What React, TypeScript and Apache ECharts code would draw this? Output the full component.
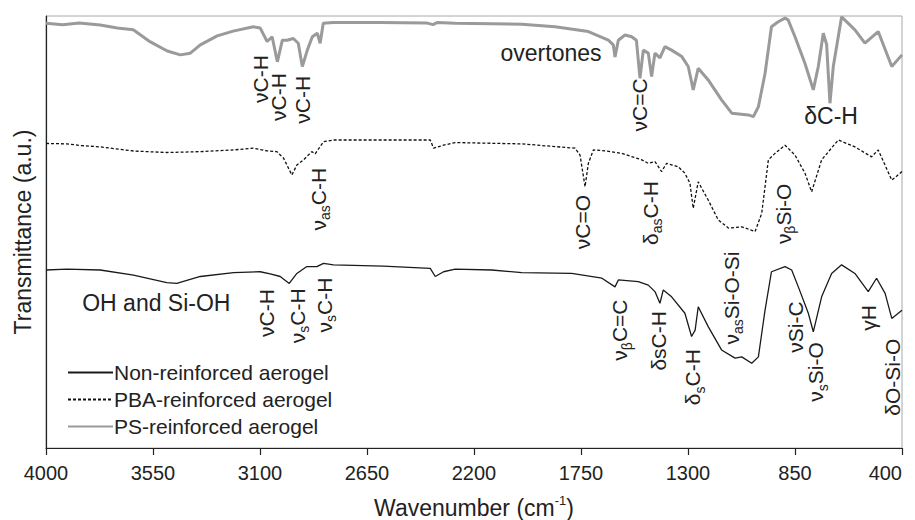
import React, { useEffect, useRef } from "react";
import * as echarts from "echarts";

const FONT = "'Liberation Sans', Arial, Helvetica, sans-serif";

// Wavenumber axis (cm-1): ticks every 450 from 400 to 4000
const xMin = 400;
const xMax = 4000;
const xStep = 450;

const seriesNames = ["Non-reinforced aerogel", "PBA-reinforced aerogel", "PS-reinforced aerogel"];

// Non-reinforced aerogel
const nonWn = [4000, 3912, 3772, 3632, 3492, 3450, 3351, 3211, 3099, 3057, 3015, 2977, 2945, 2903, 2861, 2833, 2791, 2582, 2384, 2363, 2328, 2279, 2125, 1999, 1789, 1662, 1607, 1593, 1509, 1467, 1439, 1418, 1404, 1369, 1313, 1285, 1270, 1257, 1215, 1159, 1102, 1074, 1032, 1004, 976, 949, 892, 864, 836, 794, 773, 738, 696, 654, 598, 542, 507, 471, 443, 400];
const nonT = [41.2, 41.4, 41.2, 40.0, 38.3, 38.1, 39.7, 40.6, 40.8, 40.3, 39.7, 38.1, 40.4, 42.0, 42.0, 42.75, 42.4, 42.1, 41.6, 39.7, 40.8, 41.4, 41.2, 40.6, 40.4, 39.3, 37.3, 38.9, 38.5, 37.7, 36.2, 33.5, 36.6, 35.0, 31.2, 25.8, 27.3, 32.7, 28.1, 22.7, 20.8, 21.1, 19.6, 21.1, 31.9, 40.8, 42.0, 41.2, 37.3, 31.2, 26.9, 35.0, 40.4, 42.4, 40.4, 36.2, 39.3, 35.8, 30.0, 31.9];

// PBA-reinforced aerogel
const pbaWn = [4000, 3912, 3850, 3772, 3632, 3492, 3351, 3211, 3128, 3072, 3029, 3001, 2966, 2945, 2917, 2882, 2868, 2833, 2791, 2384, 2370, 2328, 2279, 1999, 1775, 1754, 1733, 1719, 1698, 1649, 1579, 1494, 1467, 1439, 1411, 1390, 1341, 1313, 1292, 1278, 1257, 1215, 1173, 1130, 1074, 1018, 990, 962, 934, 892, 850, 808, 780, 738, 668, 598, 528, 500, 443, 400];
const pbaT = [70.5, 70.4, 70.0, 69.7, 68.75, 68.4, 68.6, 69.0, 69.4, 68.8, 68.6, 67.1, 63.2, 65.5, 66.7, 68.6, 68.1, 70.9, 71.3, 71.3, 69.4, 70.1, 70.7, 70.4, 69.4, 67.8, 60.5, 65.9, 69.0, 68.8, 68.2, 66.7, 65.9, 66.3, 64.0, 65.9, 65.1, 63.6, 61.3, 55.5, 61.6, 57.4, 52.8, 50.9, 51.2, 50.1, 54.3, 66.7, 68.2, 70.1, 67.8, 63.6, 59.3, 66.7, 71.3, 69.7, 67.4, 69.0, 62.0, 64.0];

// PS-reinforced aerogel
const psWn = [4000, 3930, 3860, 3772, 3700, 3633, 3561, 3490, 3435, 3393, 3351, 3280, 3213, 3128, 3099, 3070, 3049, 3027, 3006, 2986, 2960, 2939, 2922, 2901, 2880, 2859, 2847, 2834, 2792, 2600, 2400, 2372, 2355, 2279, 1999, 1859, 1719, 1635, 1614, 1607, 1593, 1565, 1537, 1517, 1502, 1488, 1467, 1453, 1439, 1418, 1397, 1369, 1326, 1299, 1278, 1257, 1215, 1159, 1116, 1046, 1025, 1004, 976, 949, 922, 892, 879, 850, 808, 773, 752, 731, 717, 703, 689, 654, 598, 556, 500, 443, 400];
const psT = [98.3, 98.0, 98.4, 97.9, 97.2, 96.8, 94.0, 91.9, 91.0, 91.4, 93.3, 95.4, 96.5, 97.5, 97.2, 94.1, 95.2, 89.4, 94.4, 94.4, 94.8, 93.7, 88.3, 92.1, 95.2, 96.0, 93.7, 98.3, 98.5, 98.5, 98.4, 98.0, 98.5, 98.3, 98.1, 97.5, 96.4, 94.4, 93.3, 90.5, 94.4, 95.6, 95.2, 94.4, 85.6, 92.1, 91.4, 86.0, 91.4, 90.3, 92.9, 92.1, 90.6, 88.3, 82.9, 87.9, 85.2, 80.6, 77.5, 77.1, 76.7, 79.0, 86.7, 97.5, 98.6, 99.5, 99.1, 95.2, 89.0, 82.9, 88.3, 96.0, 93.4, 79.8, 88.3, 99.8, 96.8, 93.7, 96.4, 88.3, 91.0];

// Band assignments: text uses {m|..} main and {s|..} subscript segments
const annoText = [
  "{m|νC-H}", "{m|νC-H}", "{m|νC-H}", "{h|overtones}", "{m|νC=C}", "{h|δC-H}",
  "{m|ν}{s|as}{m|C-H}", "{m|νC=O}", "{m|δ}{s|as}{m|C-H}", "{m|ν}{s|β}{m|Si-O}", "{m|ν}{s|as}{m|Si-O-Si}",
  "{h|OH and Si-OH}", "{m|νC-H}", "{m|ν}{s|s}{m|C-H}", "{m|ν}{s|s}{m|C-H}", "{m|ν}{s|β}{m|C=C}",
  "{m|δsC-H}", "{m|δ}{s|s}{m|C-H}", "{m|νSi-C}", "{m|ν}{s|s}{m|Si-O}", "{m|γH}", "{m|δO-Si-O}",
];
const annoWn = [3099, 3023, 2922, 1876, 1506, 698, 2855, 1745, 1459, 900, 1119, 3536, 3074, 2943, 2830, 1586, 1422, 1279, 846, 762, 539, 442];
const annoT = [85.4, 81.25, 80.6, 91.4, 79.4, 76.9, 57.6, 52.3, 54.4, 54.2, 34.7, 33.6, 31.25, 30.6, 33.1, 27.3, 24.8, 16.4, 28.0, 17.6, 30.1, 16.4];
const annoVertical = [true, true, true, false, true, false, true, true, true, true, true, false, true, true, true, true, true, true, true, true, true, true];

const pairs = (xs: number[], ys: number[]) => xs.map((x, i) => [x, ys[i]]);

export default function App() {
  const ref = useRef<HTMLDivElement>(null);

  useEffect(() => {
    if (!ref.current) return;
    const chart = echarts.init(ref.current, undefined, { renderer: "svg" });
    const option: any = {
      animation: false,
      backgroundColor: "#ffffff",
      textStyle: { fontFamily: FONT },
      grid: {
        left: 46,
        right: 13,
        top: 16,
        bottom: 72,
        containLabel: false,
        outerBoundsMode: "none",
        show: true,
        borderColor: "#a8a8a8",
        borderWidth: 1,
        backgroundColor: "transparent",
      },
      legend: {
        orient: "vertical",
        left: 62,
        top: 357,
        itemWidth: 45,
        itemHeight: 14,
        itemGap: 6,
        data: seriesNames,
        itemStyle: { opacity: 0 },
        textStyle: { fontSize: 21, color: "#222", fontFamily: FONT, padding: [0, 0, 0, -4] },
      },
      xAxis: {
        type: "value",
        inverse: true,
        min: xMin,
        max: xMax,
        interval: xStep,
        name: "Wavenumber (cm{sup|-1})",
        nameLocation: "middle",
        nameGap: 46,
        nameTextStyle: {
          fontSize: 23,
          color: "#222",
          fontFamily: FONT,
          lineHeight: 28,
          rich: { sup: { fontSize: 13, verticalAlign: "top", lineHeight: 28, color: "#222", fontFamily: FONT } },
        },
        axisLine: { show: true, lineStyle: { color: "#222", width: 1.2 } },
        axisTick: { show: true, inside: false, length: 7, lineStyle: { color: "#222", width: 1.2 } },
        axisLabel: {
          fontSize: 20,
          color: "#222",
          margin: 15,
          fontFamily: FONT,
          alignMinLabel: "right",
          formatter: (v: number) => String(v),
        },
        splitLine: { show: false },
      },
      yAxis: {
        type: "value",
        min: 0,
        max: 100,
        name: "Transmittance (a.u.)",
        nameLocation: "middle",
        nameGap: 12,
        nameTextStyle: { fontSize: 23, color: "#222", fontFamily: FONT },
        axisLine: { show: true, lineStyle: { color: "#222", width: 1.2 } },
        axisTick: { show: false },
        axisLabel: { show: false },
        splitLine: { show: false },
      },
      series: [
        {
          name: seriesNames[0],
          type: "line",
          data: pairs(nonWn, nonT),
          symbol: "none",
          lineStyle: { color: "#1a1a1a", width: 1.3, type: "solid" },
          itemStyle: { color: "#1a1a1a" },
          z: 3,
        },
        {
          name: seriesNames[1],
          type: "line",
          data: pairs(pbaWn, pbaT),
          symbol: "none",
          lineStyle: { color: "#111", width: 1.3, type: [3, 2] },
          itemStyle: { color: "#111" },
          z: 3,
        },
        {
          name: seriesNames[2],
          type: "line",
          data: pairs(psWn, psT),
          symbol: "none",
          lineStyle: { color: "#9a9a9a", width: 3, type: "solid" },
          itemStyle: { color: "#9a9a9a" },
          z: 2,
        },
      ],
    };
    chart.setOption(option);

    const rich = {
      m: { fontSize: 21, fontFamily: FONT, fill: "#222", lineHeight: 28, verticalAlign: "middle" },
      s: { fontSize: 14, fontFamily: FONT, fill: "#222", lineHeight: 14, verticalAlign: "bottom" },
      h: { fontSize: 23, fontFamily: FONT, fill: "#222", lineHeight: 28, verticalAlign: "middle" },
    };
    const graphic = annoText.map((t, i) => {
      const p = chart.convertToPixel({ gridIndex: 0 } as any, [annoWn[i], annoT[i]]) as number[];
      return {
        type: "text",
        x: p[0],
        y: p[1],
        rotation: annoVertical[i] ? Math.PI / 2 : 0,
        silent: true,
        style: {
          text: t,
          rich,
          fill: "#222",
          fontFamily: FONT,
          fontSize: 21,
          align: "center",
          verticalAlign: "middle",
        },
        z: 10,
      };
    });
    chart.setOption({ graphic });

    return () => chart.dispose();
  }, []);

  return (
    <div
      ref={ref}
      style={{ position: "fixed", left: 0, top: 0, width: 915, height: 520, background: "#fff" }}
    />
  );
}
